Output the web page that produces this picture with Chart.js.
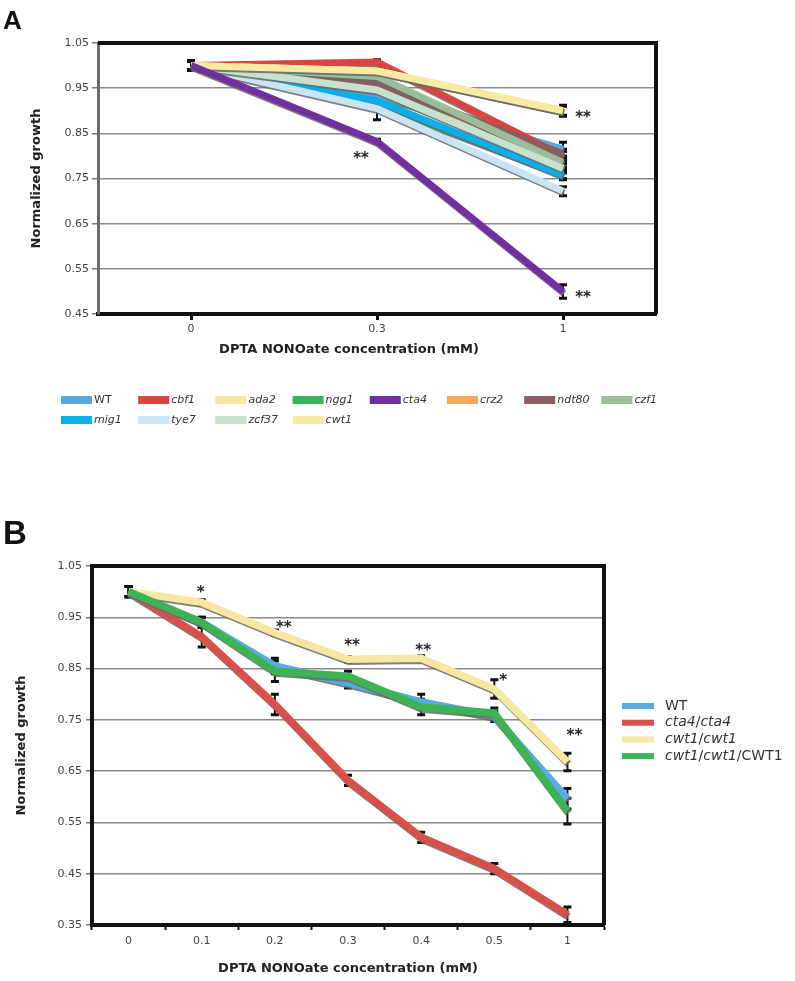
<!DOCTYPE html>
<html>
<head>
<meta charset="utf-8">
<script src="https://cdn.jsdelivr.net/npm/chart.js@4.4.1/dist/chart.umd.min.js"></script>
<style>
  body { margin: 0; background: #fff; }
  #wrap { position: relative; width: 795px; height: 981px; overflow: hidden; }
  #chartA { position: absolute; left: 0; top: 0; }
  #chartB { position: absolute; left: 0; top: 440px; }
  .tag { position: absolute; line-height: 1; font-family: 'Liberation Sans', Arial, sans-serif; font-weight: bold; color: #111; }
</style>
</head>
<body>
<div id="wrap">
  <canvas id="chartA" width="795" height="440"></canvas>
  <canvas id="chartB" width="795" height="541"></canvas>
  <div class="tag" style="left:3px; top:7px; font-size:26px;">A</div>
  <div class="tag" style="left:3px; top:516px; font-size:33px;">B</div>
</div>
<script>
// ---- panel A data ----
const catsA = ['0', '0.3', '1'];
const yTicksA = [0.45, 0.55, 0.65, 0.75, 0.85, 0.95, 1.05];
const namesA = ['WT', 'cbf1', 'ada2', 'ngg1', 'cta4', 'crz2', 'ndt80', 'czf1', 'mig1', 'tye7', 'zcf37', 'cwt1'];
const wtA    = [1.00, 0.935, 0.815];
const cbf1A  = [1.00, 1.008, 0.80];
const ada2A  = [1.00, 0.988, 0.90];
const ngg1A  = [1.00, 0.915, 0.76];
const cta4A  = [1.00, 0.832, 0.50];
const crz2A  = [1.00, 0.948, 0.775];
const ndt80A = [1.00, 0.961, 0.805];
const czf1A  = [1.00, 0.976, 0.785];
const mig1A  = [1.00, 0.922, 0.757];
const tye7A  = [1.00, 0.905, 0.722];
const zcf37A = [1.00, 0.946, 0.772];
const cwt1A  = [1.00, 0.988, 0.90];
// error bars (+/-)
const wtErrA    = [0.01, 0.01, 0.015];
const cbf1ErrA  = [0.01, 0.005, 0.01];
const ada2ErrA  = [0.01, 0.005, 0.01];
const ngg1ErrA  = [0.01, 0.01, 0.01];
const cta4ErrA  = [0.01, 0.005, 0.015];
const crz2ErrA  = [0.01, 0.01, 0.01];
const ndt80ErrA = [0.01, 0.01, 0.01];
const czf1ErrA  = [0.01, 0.01, 0.01];
const mig1ErrA  = [0.01, 0.01, 0.01];
const tye7ErrA  = [0.01, 0.025, 0.01];
const zcf37ErrA = [0.01, 0.01, 0.01];
const cwt1ErrA  = [0.01, 0.005, 0.012];
// significance marks
const cta4SigA = ['', '**', '**'];
const cwt1SigA = ['', '', '**'];

// ---- panel B data ----
const catsB = ['0', '0.1', '0.2', '0.3', '0.4', '0.5', '1'];
const yTicksB = [0.35, 0.45, 0.55, 0.65, 0.75, 0.85, 0.95, 1.05];
const namesB = ['WT', 'cta4/cta4', 'cwt1/cwt1', 'cwt1/cwt1/CWT1'];
const wtB     = [1.00, 0.94, 0.855, 0.822, 0.785, 0.757, 0.596];
const cta4B   = [1.00, 0.912, 0.78, 0.632, 0.521, 0.46, 0.37];
const cwt1B   = [1.00, 0.979, 0.92, 0.868, 0.87, 0.81, 0.668];
const revB    = [1.00, 0.94, 0.845, 0.835, 0.775, 0.763, 0.572];
const wtErrB   = [0.01, 0.01, 0.015, 0.01, 0.015, 0.01, 0.02];
const cta4ErrB = [0.01, 0.02, 0.02, 0.01, 0.01, 0.01, 0.015];
const cwt1ErrB = [0.01, 0.005, 0.005, 0.005, 0.005, 0.018, 0.017];
const revErrB  = [0.01, 0.01, 0.02, 0.01, 0.015, 0.01, 0.025];
const cwt1SigB = ['', '*', '**', '**', '**', '*', '**'];

const colorsA = ['#5aa7de', '#d9453f', '#f6e6a0', '#3bb15a', '#7030a0', '#f5a95e',
                 '#8c5d5e', '#9dbd9a', '#0aaee8', '#c9e5f4', '#c6e2cf', '#f7eba4'];
const colorsB = ['#5aabe0', '#d9504a', '#f6e7a2', '#3cb355'];

Chart.defaults.font.family = "'DejaVu Sans', Verdana, sans-serif";

// lines get a grey drop edge, like the original spreadsheet style
const lineShadow = {
  id: 'lineShadow',
  beforeDatasetDraw(chart, args, o) {
    const c = chart.ctx;
    c.save();
    c.shadowColor = o.color;
    c.shadowOffsetX = o.dx;
    c.shadowOffsetY = o.dy;
    c.shadowBlur = o.blur;
  },
  afterDatasetDraw(chart) { chart.ctx.restore(); }
};

const errorBars = {
  id: 'errorBars',
  beforeDatasetsDraw(chart, args, o) {
    const ctx = chart.ctx, y = chart.scales.y;
    ctx.save();
    ctx.strokeStyle = o.color;
    chart.data.datasets.forEach((ds, di) => {
      if (!ds.errors) return;
      chart.getDatasetMeta(di).data.forEach((pt, i) => {
        const e = ds.errors[i];
        if (!e) return;
        const yt = y.getPixelForValue(ds.data[i] + e);
        const yb = y.getPixelForValue(ds.data[i] - e);
        ctx.lineWidth = o.width;
        ctx.beginPath(); ctx.moveTo(pt.x, yt); ctx.lineTo(pt.x, yb); ctx.stroke();
        ctx.lineWidth = o.capWidth;
        ctx.beginPath();
        ctx.moveTo(pt.x - o.cap, yt); ctx.lineTo(pt.x + o.cap, yt);
        ctx.moveTo(pt.x - o.cap, yb); ctx.lineTo(pt.x + o.cap, yb);
        ctx.stroke();
      });
    });
    ctx.restore();
  }
};

const sigMarks = {
  id: 'sigMarks',
  afterDatasetsDraw(chart, args, o) {
    const ctx = chart.ctx;
    ctx.save();
    ctx.font = o.font;
    ctx.fillStyle = o.color;
    ctx.textAlign = 'center';
    ctx.textBaseline = 'alphabetic';
    chart.data.datasets.forEach((ds, di) => {
      if (!ds.sig) return;
      const offs = o.offsets[ds.label] || [];
      chart.getDatasetMeta(di).data.forEach((pt, i) => {
        if (!ds.sig[i]) return;
        const off = offs[i] || [0, -14];
        ctx.fillText(ds.sig[i], pt.x + off[0], pt.y + off[1] + o.lift);
      });
    });
    ctx.restore();
  }
};

const frame = {
  id: 'frame',
  afterDatasetsDraw(chart, args, o) {
    const {ctx, chartArea: a} = chart;
    ctx.save();
    ctx.strokeStyle = o.color;
    ctx.lineWidth = o.width;
    ctx.beginPath();
    ctx.moveTo(a.left, a.top); ctx.lineTo(a.right, a.top); ctx.lineTo(a.right, a.bottom);
    ctx.stroke();
    if (o.caption) {
      ctx.font = o.caption.font;
      ctx.fillStyle = o.caption.color;
      ctx.textAlign = 'center';
      ctx.textBaseline = 'middle';
      ctx.fillText(o.caption.text, o.caption.x, o.caption.y);
    }
    ctx.restore();
  }
};

function splitLabel(s) {
  return s.split(/(\/)/).filter(t => t).map(t => ({ text: t, italic: /[a-z]/.test(t) }));
}

const gridLegend = {
  id: 'gridLegend',
  afterDraw(chart, args, o) {
    const ctx = chart.ctx;
    ctx.save();
    ctx.textBaseline = 'middle';
    chart.data.datasets.forEach((ds, i) => {
      const col = i % o.cols, row = Math.floor(i / o.cols);
      const x = o.x + col * o.colW, y = o.y + row * o.rowH;
      ctx.fillStyle = ds.borderColor;
      ctx.fillRect(x, y - o.boxH / 2, o.boxW, o.boxH);
      let tx = x + o.boxW + o.gap;
      ctx.fillStyle = o.color;
      splitLabel(ds.label).forEach(seg => {
        ctx.font = (seg.italic ? 'italic ' : '') + o.size + "px 'DejaVu Sans', Verdana, sans-serif";
        ctx.fillText(seg.text, tx, y);
        tx += ctx.measureText(seg.text).width;
      });
    });
    ctx.restore();
  }
};

Chart.register(lineShadow, errorBars, sigMarks, frame, gridLegend);

// ---- chart A ----
const seriesA = [wtA, cbf1A, ada2A, ngg1A, cta4A, crz2A, ndt80A, czf1A, mig1A, tye7A, zcf37A, cwt1A];
const errA = [wtErrA, cbf1ErrA, ada2ErrA, ngg1ErrA, cta4ErrA, crz2ErrA, ndt80ErrA, czf1ErrA, mig1ErrA, tye7ErrA, zcf37ErrA, cwt1ErrA];
const sigA = { cta4: cta4SigA, cwt1: cwt1SigA };

new Chart(document.getElementById('chartA'), {
  type: 'line',
  data: {
    labels: catsA,
    datasets: namesA.map((n, i) => ({
      label: n,
      data: seriesA[i],
      errors: errA[i],
      sig: sigA[n],
      borderColor: colorsA[i],
      backgroundColor: colorsA[i],
      borderWidth: 7,
      pointRadius: 0,
      tension: 0,
      // later series sit on top, the cta4 line stays above everything
      order: n === 'cta4' ? -99 : -i
    }))
  },
  options: {
    responsive: false,
    animation: false,
    events: [],
    layout: { padding: { left: 0, right: 139, top: 43, bottom: 76 } },
    plugins: {
      legend: { display: false },
      tooltip: { enabled: false },
      lineShadow: { color: 'rgba(105,105,105,0.85)', dx: 1, dy: 2, blur: 0 },
      errorBars: { color: '#111', width: 2, capWidth: 3, cap: 4 },
      sigMarks: {
        font: "bold 15px 'DejaVu Sans', Verdana, sans-serif", color: '#222', lift: 8,
        offsets: { cta4: [null, [-16, 14], [20, 3]], cwt1: [null, null, [20, 3]] }
      },
      frame: {
        color: '#111', width: 4,
        caption: { text: 'DPTA NONOate concentration (mM)', x: 349, y: 350, color: '#222',
                   font: "bold 13px 'DejaVu Sans', Verdana, sans-serif" }
      },
      gridLegend: { x: 61, y: 400, cols: 8, colW: 77.2, rowH: 20, boxW: 31, boxH: 8, gap: 2, size: 11, color: '#333' }
    },
    scales: {
      x: {
        offset: true,
        grid: { drawOnChartArea: false, offset: false, tickLength: 6, tickWidth: 3, tickColor: '#111' },
        border: { color: '#111', width: 4 },
        ticks: { color: '#444', font: { size: 11 }, padding: 3 },
        afterFit: s => { s.height = 50; }
      },
      y: {
        min: 0.45, max: 1.05,
        afterBuildTicks: s => { s.ticks = yTicksA.map(v => ({ value: v })); },
        ticks: { color: '#444', font: { size: 11 }, padding: 3, callback: v => v.toFixed(2) },
        grid: { color: '#8a8a8a', lineWidth: 1.5, tickLength: 6, tickColor: '#777' },
        border: { color: '#6b6b6b', width: 3 },
        title: { display: true, text: 'Normalized growth', color: '#222',
                 font: { size: 13, weight: 'bold' }, padding: { top: 29 } },
        afterFit: s => { s.width = 98; }
      }
    }
  }
});

// ---- chart B ----
const seriesB = [wtB, cta4B, cwt1B, revB];
const errB = [wtErrB, cta4ErrB, cwt1ErrB, revErrB];
const sigB = { 'cwt1/cwt1': cwt1SigB };

new Chart(document.getElementById('chartB'), {
  type: 'line',
  data: {
    labels: catsB,
    datasets: namesB.map((n, i) => ({
      label: n,
      data: seriesB[i],
      errors: errB[i],
      sig: sigB[n],
      borderColor: colorsB[i],
      backgroundColor: colorsB[i],
      borderWidth: 7.5,
      pointRadius: 0,
      tension: 0,
      order: -i
    }))
  },
  options: {
    responsive: false,
    animation: false,
    events: [],
    layout: { padding: { left: 0, right: 191, top: 126, bottom: 1 } },
    plugins: {
      legend: { display: false },
      tooltip: { enabled: false },
      lineShadow: { color: 'rgba(105,105,105,0.85)', dx: 1, dy: 2, blur: 0 },
      errorBars: { color: '#111', width: 2, capWidth: 3, cap: 4 },
      sigMarks: {
        font: "bold 15px 'DejaVu Sans', Verdana, sans-serif", color: '#222', lift: 8,
        offsets: { 'cwt1/cwt1': [null, [-1, -13], [9, -9], [4, -17], [2, -11], [9, -12], [7, -30]] }
      },
      frame: { color: '#111', width: 4 },
      gridLegend: { x: 622, y: 266, cols: 1, colW: 0, rowH: 16.7, boxW: 32, boxH: 6, gap: 11, size: 14, color: '#333' }
    },
    scales: {
      x: {
        offset: true,
        grid: { drawOnChartArea: false, offset: true, tickLength: 5, tickWidth: 2, tickColor: '#111' },
        border: { color: '#111', width: 4 },
        ticks: { color: '#444', font: { size: 11 }, padding: 5 },
        title: { display: true, text: 'DPTA NONOate concentration (mM)', color: '#222',
                 font: { size: 13, weight: 'bold' }, padding: { top: 4 } },
        afterFit: s => { s.height = 55; }
      },
      y: {
        min: 0.35, max: 1.05,
        afterBuildTicks: s => { s.ticks = yTicksB.map(v => ({ value: v })); },
        ticks: { color: '#444', font: { size: 11 }, padding: 4, callback: v => v.toFixed(2) },
        grid: { color: '#8a8a8a', lineWidth: 1.5, tickLength: 6, tickColor: '#777' },
        border: { color: '#111', width: 4 },
        title: { display: true, text: 'Normalized growth', color: '#222',
                 font: { size: 13, weight: 'bold' }, padding: { top: 14 } },
        afterFit: s => { s.width = 92; }
      }
    }
  }
});
</script>
</body>
</html>
